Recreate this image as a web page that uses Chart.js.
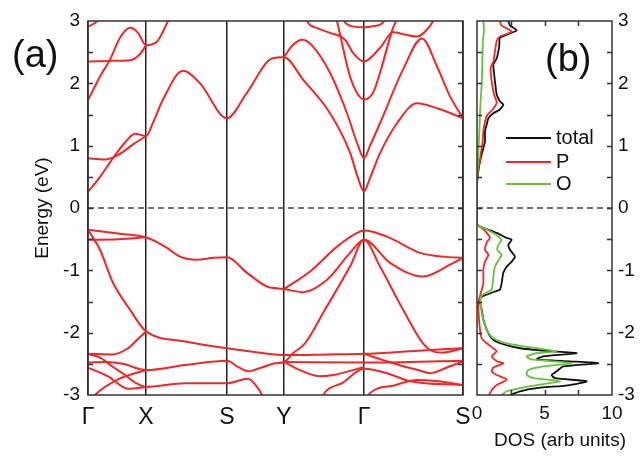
<!DOCTYPE html>
<html>
<head>
<meta charset="utf-8">
<script src="https://cdn.jsdelivr.net/npm/chart.js@4.4.0/dist/chart.umd.min.js"></script>
<style>
  body { margin: 0; background: #fff; width: 641px; height: 456px; overflow: hidden; position: relative;
         font-family: "Liberation Sans", Arial, sans-serif; color: #111; }
  #bandBox { position: absolute; left: 0; top: 0; width: 470px; height: 456px; }
  #dosBox { position: absolute; left: 470px; top: 0; width: 171px; height: 456px; }
  .tag { position: absolute; font-size: 38px; line-height: 1; }
  .leg { position: absolute; left: 506px; font-size: 20px; line-height: 20px; height: 20px; white-space: nowrap; }
  .leg span { display: inline-block; width: 45px; height: 2px; vertical-align: middle; margin-right: 5px; position: relative; top: -1px; }
  #dosTitle { position: absolute; left: 494px; top: 430px; font-size: 19px; line-height: 20px; white-space: nowrap; }
</style>
</head>
<body>
<div id="bandBox"><canvas id="bandChart"></canvas></div>
<div id="dosBox"><canvas id="dosChart"></canvas></div>
<div class="tag" style="left:12px; top:35px;">(a)</div>
<div class="tag" style="left:545px; top:39px;">(b)</div>
<div class="leg" style="top:127px;"><span style="background:#111"></span>total</div>
<div class="leg" style="top:151px;"><span style="background:#f02828"></span>P</div>
<div class="leg" style="top:173px;"><span style="background:#66c23a"></span>O</div>
<div id="dosTitle">DOS (arb units)</div>

<script>
// k-path: high symmetry points and their distance along the path
const kLabels = ["Γ", "X", "S", "Y", "Γ", "S"];
const kPos = [0, 58, 139, 196, 276, 375];
const energyMinor = [-2.5, -2, -1.5, -1, -0.5, 0, 0.5, 1, 1.5, 2, 2.5];
const dosMinor = [2.5, 5, 7.5];
const fermiLevel = 0;

// bands as [k, E(eV)]
const bands = [
  // conduction
  [[0,0.26],[12,0.5],[25,0.8],[37,1.05],[47,1.19],[58,1.155],[65,1.37],[75,1.74],[95,2.2],[112,2.0],[139,1.44],[159,1.85],[184,2.4],[196,2.42],[215,2.06],[242,1.52],[262,0.89],[270,0.48],[276,0.27],[282,0.48],[292,0.88],[309,1.36],[329,1.68],[349,1.6],[375,1.44]],
  [[0,0.8],[17,0.78],[30,0.85],[45,1.02],[58,1.155]],
  [[196,2.42],[205,2.62],[215,2.7],[225,2.59],[242,2.17],[259,1.52],[270,1.0],[276,0.8],[282,1.0],[292,1.36],[315,2.22],[334,2.72],[349,2.27],[362,1.79],[375,1.44]],
  [[0,1.73],[12,2.11],[22,2.38],[32,2.73],[42,2.89],[50,2.81],[58,2.61],[69,2.67],[80,3.0],[86,3.2]],
  [[0,2.35],[22,2.36],[42,2.37],[52,2.47],[58,2.61]],
  [[0,2.91],[5,2.95],[9,3.0],[14,3.2]],
  [[246,3.2],[249,3.0],[255,2.57],[262,2.11],[270,1.82],[276,1.74],[285,1.85],[292,2.17],[305,2.89],[308,3.0],[311,3.2]],
  [[215,3.2],[219,3.0],[230,2.88],[242,2.81],[257,2.7],[265,2.49],[276,2.35],[292,2.57],[305,2.82],[318,2.78],[329,2.75],[340,2.88],[345,3.0],[350,3.2]],
  [[252,3.1],[258,2.96],[266,2.91],[276,2.9],[286,2.92],[294,2.96],[300,3.1]],
  // valence
  [[0,-0.35],[30,-0.41],[58,-0.47],[79,-0.64],[92,-0.78],[109,-0.83],[125,-0.8],[139,-0.79],[159,-1.04],[179,-1.26],[196,-1.3],[215,-1.35],[239,-1.15],[262,-0.72],[276,-0.51],[302,-0.88],[335,-1.1],[362,-0.91],[375,-0.8]],
  [[0,-0.51],[30,-0.5],[58,-0.47]],
  [[196,-1.3],[222,-1.02],[249,-0.62],[269,-0.4],[276,-0.36],[299,-0.46],[332,-0.72],[355,-0.78],[375,-0.8]],
  [[0,-0.35],[12,-0.67],[25,-1.2],[42,-1.63],[58,-1.98],[97,-2.14],[139,-2.25],[187,-2.35],[196,-2.36],[240,-2.35],[276,-2.34],[330,-2.29],[375,-2.25]],
  [[0,-2.34],[24,-2.35],[40,-2.25],[50,-2.1],[58,-1.98]],
  [[0,-2.48],[18,-2.47],[35,-2.5],[58,-2.6],[97,-2.52],[139,-2.45],[150,-2.55],[160,-2.62],[175,-2.55],[187,-2.49],[196,-2.47],[205,-2.33],[217,-2.17],[237,-1.63],[262,-0.94],[276,-0.51],[292,-0.94],[315,-1.63],[335,-2.17],[345,-2.3],[354,-2.32],[375,-2.25]],
  [[0,-2.34],[12,-2.4],[25,-2.55],[37,-2.68],[47,-2.8],[58,-2.87],[97,-2.81],[139,-2.81],[160,-2.74],[168,-2.85],[174,-3.0],[178,-3.2]],
  [[0,-2.56],[20,-2.7],[40,-2.9],[58,-2.87]],
  [[0,-3.15],[7,-3.0],[30,-2.75],[58,-2.6]],
  [[196,-2.47],[212,-2.6],[232,-2.7],[245,-2.68],[276,-2.55]],
  [[196,-2.47],[276,-2.48],[375,-2.45]],
  [[276,-2.34],[305,-2.49],[330,-2.6],[342,-2.65],[360,-2.55],[375,-2.46]],
  [[230,-3.2],[235,-3.0],[255,-2.8],[276,-2.58],[299,-2.65],[322,-2.78],[375,-2.84]],
  [[275,-3.2],[282,-2.97],[305,-2.85],[329,-2.76],[350,-2.78],[375,-2.84]]
];

// DOS as [E(eV), DOS]
const dosTotal = [[3.0,2.32],[2.93,2.44],[2.85,2.94],[2.79,2.3],[2.73,1.7],[2.6,1.65],[2.51,1.58],[2.4,1.46],[2.3,1.21],[2.15,1.27],[2.03,1.33],[1.82,1.46],[1.71,1.7],[1.66,1.95],[1.58,1.7],[1.52,1.21],[1.44,0.84],[1.34,0.72],[1.23,0.59],[1.07,0.59],[0.96,0.47],[0.86,0.35],[0.75,0.22],[0.59,0.1],[0.43,0.02],[0.2,0],[-0.26,0],[-0.3,0.25],[-0.33,0.6],[-0.4,1.46],[-0.48,2.2],[-0.51,2.57],[-0.59,2.32],[-0.67,2.44],[-0.78,2.81],[-0.86,2.57],[-0.94,2.2],[-1.04,1.95],[-1.2,1.83],[-1.31,1.7],[-1.34,1.33],[-1.38,0.84],[-1.41,0.47],[-1.44,0.27],[-1.52,0.22],[-1.63,0.35],[-1.79,0.47],[-1.95,0.72],[-2.09,1.09],[-2.17,1.7],[-2.25,3.19],[-2.3,5.65],[-2.33,7.38],[-2.38,4.91],[-2.43,4.42],[-2.46,6.89],[-2.49,8.99],[-2.54,6.4],[-2.62,5.9],[-2.68,5.53],[-2.73,5.78],[-2.78,8.12],[-2.84,6.89],[-2.89,4.42],[-2.94,3.19],[-3.0,2.44]];
const dosP = [[3.0,1.7],[2.93,1.8],[2.83,2.57],[2.75,1.7],[2.68,1.46],[2.51,1.33],[2.35,1.21],[2.25,1.01],[2.03,1.09],[1.82,1.26],[1.69,1.46],[1.58,1.16],[1.48,0.72],[1.38,0.59],[1.23,0.47],[1.07,0.42],[0.96,0.35],[0.86,0.27],[0.75,0.22],[0.65,0.1],[0.52,0.02],[0.3,0],[-0.26,0],[-0.32,0.35],[-0.4,0.72],[-0.48,0.96],[-0.55,0.72],[-0.67,0.59],[-0.75,0.84],[-0.86,0.59],[-0.98,0.47],[-1.2,0.47],[-1.31,0.35],[-1.41,0.22],[-1.52,0.1],[-1.63,0.1],[-1.79,0.15],[-1.95,0.22],[-2.09,0.35],[-2.17,0.72],[-2.25,1.21],[-2.3,1.46],[-2.38,1.09],[-2.46,1.46],[-2.49,1.95],[-2.56,1.21],[-2.62,1.09],[-2.68,1.46],[-2.75,2.2],[-2.84,1.46],[-2.92,1.09],[-3.0,0.9]];
const dosO = [[3.0,0.47],[2.85,0.52],[2.7,0.44],[2.4,0.4],[2.0,0.35],[1.6,0.24],[1.2,0.17],[0.9,0.1],[0.6,0.05],[0.4,0.01],[0.2,0],[-0.26,0],[-0.32,0.5],[-0.4,1.21],[-0.48,1.7],[-0.51,1.83],[-0.59,1.58],[-0.67,1.5],[-0.75,1.83],[-0.8,1.7],[-0.94,1.33],[-1.1,1.21],[-1.31,1.09],[-1.34,0.84],[-1.38,0.47],[-1.44,0.27],[-1.6,0.3],[-1.79,0.47],[-1.95,0.72],[-2.09,1.21],[-2.17,2.2],[-2.25,4.42],[-2.3,5.9],[-2.33,4.42],[-2.38,3.68],[-2.43,4.0],[-2.49,7.01],[-2.54,4.91],[-2.6,3.8],[-2.68,3.68],[-2.73,4.2],[-2.78,6.15],[-2.84,4.42],[-2.89,3.19],[-2.94,2.2],[-3.0,1.83]];

const FONT = "'Liberation Sans', Arial, sans-serif";
const bandRed = "#f02828";

// frame box + inward ticks
const framePlugin = {
  id: "frame",
  afterDatasetsDraw(chart, args, opts) {
    const { ctx, chartArea: a, scales } = chart;
    ctx.save();
    ctx.strokeStyle = "#333";
    ctx.lineWidth = 1.5;
    ctx.strokeRect(a.left, a.top, a.right - a.left, a.bottom - a.top);
    ctx.beginPath();
    (opts.yMinor || []).forEach(v => {
      const y = Math.round(scales.y.getPixelForValue(v)) + 0.5;
      ctx.moveTo(a.left, y); ctx.lineTo(a.left + 5, y);
      ctx.moveTo(a.right, y); ctx.lineTo(a.right - 5, y);
    });
    (opts.xMinor || []).forEach(v => {
      const x = Math.round(scales.x.getPixelForValue(v)) + 0.5;
      ctx.moveTo(x, a.bottom); ctx.lineTo(x, a.bottom - 5);
      ctx.moveTo(x, a.top); ctx.lineTo(x, a.top + 5);
    });
    ctx.stroke();
    ctx.restore();
  }
};

function noPad(s) {
  s.paddingLeft = 0; s.paddingRight = 0; s.paddingTop = 0; s.paddingBottom = 0;
}

// 📈 Band structure
const bandSets = bands.map(b => ({
  data: b.map(p => ({ x: p[0], y: p[1] })),
  showLine: true,
  borderColor: bandRed,
  borderWidth: 2,
  pointRadius: 0,
  cubicInterpolationMode: "monotone",
}));
bandSets.push({
  data: [{ x: kPos[0], y: fermiLevel }, { x: kPos[kPos.length - 1], y: fermiLevel }],
  showLine: true,
  borderColor: "#444",
  borderWidth: 1.5,
  borderDash: [6, 4],
  pointRadius: 0,
});

new Chart(document.getElementById("bandChart"), {
  type: "scatter",
  data: { datasets: bandSets },
  plugins: [framePlugin],
  options: {
    responsive: true,
    maintainAspectRatio: false,
    animation: false,
    layout: { padding: { left: 0, top: 21, right: 7, bottom: 0 } },
    plugins: {
      legend: { display: false },
      tooltip: { enabled: false },
      frame: { yMinor: energyMinor },
    },
    scales: {
      x: {
        type: "linear",
        min: kPos[0],
        max: kPos[kPos.length - 1],
        afterBuildTicks: s => { s.ticks = kPos.map(v => ({ value: v })); },
        afterFit: s => { s.height = 61; noPad(s); },
        ticks: {
          autoSkip: false,
          maxRotation: 0,
          padding: 9,
          color: "#111",
          font: { family: FONT, size: 23 },
          callback: (v, i) => kLabels[i],
        },
        grid: { color: "#222", lineWidth: 1.5, drawTicks: false },
        border: { display: false },
      },
      y: {
        min: -3,
        max: 3,
        afterFit: s => { s.width = 88; noPad(s); },
        ticks: { stepSize: 1, padding: 8, color: "#111", font: { family: FONT, size: 19 } },
        grid: { display: false, drawTicks: false },
        border: { display: false },
        title: {
          display: true,
          text: "Energy (eV)",
          color: "#111",
          font: { family: FONT, size: 19 },
          padding: { top: 31, bottom: 0 },
        },
      },
    },
  },
});

// 📊 DOS panel
const dosLine = (pts, color) => ({
  data: pts.map(p => ({ x: p[1], y: p[0] })),
  showLine: true,
  borderColor: color,
  borderWidth: 1.8,
  pointRadius: 0,
  tension: 0.2,
});

new Chart(document.getElementById("dosChart"), {
  type: "scatter",
  data: {
    datasets: [
      dosLine(dosO, "#66c23a"),
      dosLine(dosP, bandRed),
      dosLine(dosTotal, "#111"),
      {
        data: [{ x: 0, y: fermiLevel }, { x: 10, y: fermiLevel }],
        showLine: true,
        borderColor: "#444",
        borderWidth: 1.5,
        borderDash: [6, 4],
        pointRadius: 0,
      },
    ],
  },
  plugins: [framePlugin],
  options: {
    responsive: true,
    maintainAspectRatio: false,
    animation: false,
    layout: { padding: { left: 7, top: 21, right: 0, bottom: 0 } },
    plugins: {
      legend: { display: false },
      tooltip: { enabled: false },
      frame: { yMinor: energyMinor, xMinor: dosMinor },
    },
    scales: {
      x: {
        type: "linear",
        min: 0,
        max: 10,
        afterFit: s => { s.height = 61; noPad(s); },
        ticks: {
          stepSize: 2.5,
          padding: 7,
          color: "#111",
          font: { family: FONT, size: 19 },
          callback: v => (v % 5 === 0 ? v : ""),
        },
        grid: { display: false, drawTicks: false },
        border: { display: false },
      },
      y: {
        position: "right",
        min: -3,
        max: 3,
        afterFit: s => { s.width = 29; noPad(s); },
        ticks: { stepSize: 1, padding: 6, color: "#111", font: { family: FONT, size: 19 } },
        grid: { display: false, drawTicks: false },
        border: { display: false },
      },
    },
  },
});
</script>
</body>
</html>
